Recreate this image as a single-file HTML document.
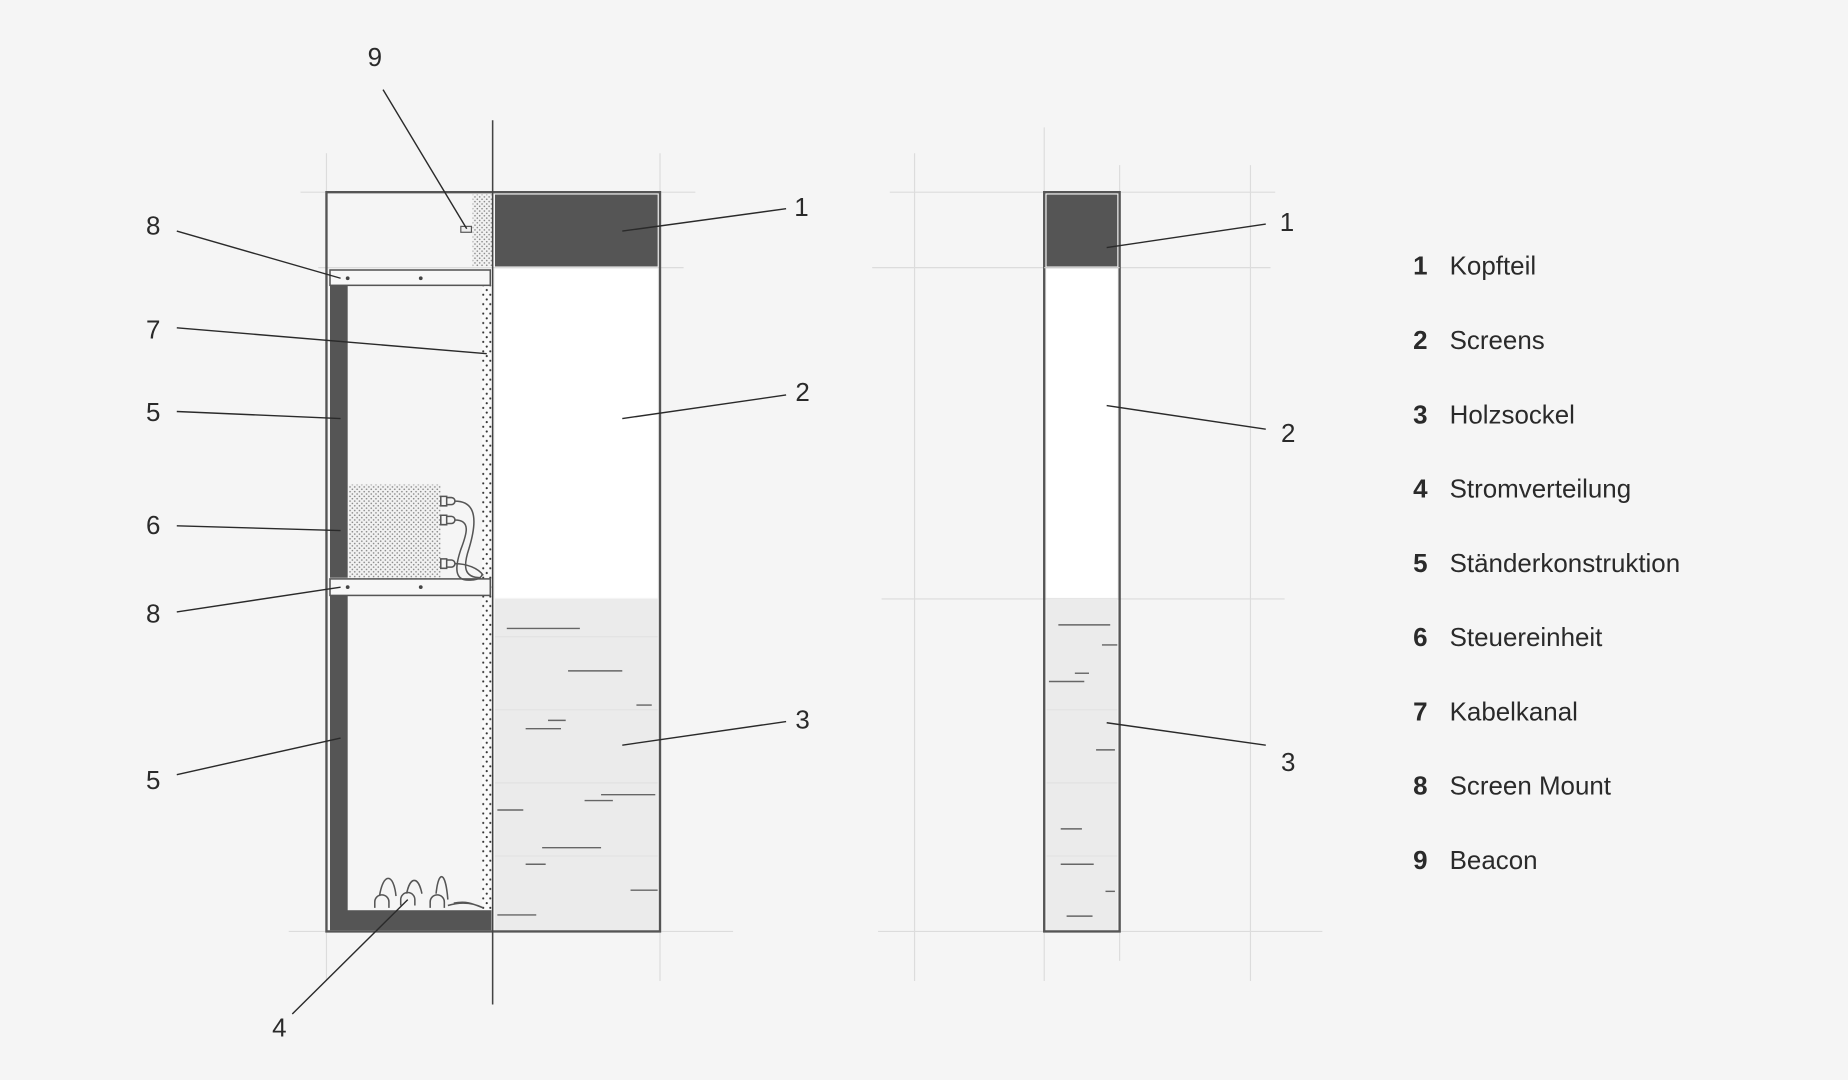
<!DOCTYPE html>
<html><head><meta charset="utf-8"><style>
html,body{margin:0;padding:0;background:#f5f5f5;}
svg{display:block}
text{font-family:"Liberation Sans",Arial,sans-serif;fill:#2a2a2a;}
</style></head><body>
<svg width="1848" height="1080" viewBox="0 0 1568 916" preserveAspectRatio="none" xmlns="http://www.w3.org/2000/svg">
<defs>
<pattern id="dots" width="4" height="4" patternUnits="userSpaceOnUse"><rect width="4" height="4" fill="#f2f2f2"/><circle cx="1" cy="1" r="0.7" fill="#888"/><circle cx="3" cy="3" r="0.7" fill="#888"/></pattern>
<pattern id="dots2" width="6" height="8" patternUnits="userSpaceOnUse"><rect width="6" height="8" fill="#fafafa"/><circle cx="2" cy="2" r="0.9" fill="#333"/><circle cx="5" cy="6" r="0.9" fill="#333"/></pattern>
</defs>
<rect width="1568" height="916" fill="#f5f5f5"/>
<g stroke="#dcdcdc" stroke-width="1">
<line x1="277" y1="130" x2="277" y2="832"/><line x1="560" y1="130" x2="560" y2="832"/>
<line x1="255" y1="163" x2="590" y2="163"/><line x1="270" y1="227" x2="580" y2="227"/><line x1="245" y1="790" x2="622" y2="790"/>
<line x1="776" y1="130" x2="776" y2="832"/><line x1="886" y1="108" x2="886" y2="832"/><line x1="950" y1="140" x2="950" y2="815"/><line x1="1061" y1="140" x2="1061" y2="832"/>
<line x1="755" y1="163" x2="1082" y2="163"/><line x1="740" y1="227" x2="1078" y2="227"/><line x1="748" y1="508" x2="1090" y2="508"/><line x1="745" y1="790" x2="1122" y2="790"/>
</g>
<rect x="420" y="165" width="138" height="61" fill="#555"/>
<rect x="420" y="228" width="138" height="279" fill="#fff"/>
<rect x="420" y="508" width="138" height="281" fill="#ebebeb"/>
<g stroke="#e2e2e2"><line x1="420" y1="540" x2="558" y2="540"/><line x1="420" y1="602" x2="558" y2="602"/><line x1="420" y1="664" x2="558" y2="664"/><line x1="420" y1="726" x2="558" y2="726"/></g>
<g stroke="#666" stroke-width="1.2">
<line x1="430" y1="533" x2="492" y2="533"/><line x1="482" y1="569" x2="528" y2="569"/><line x1="540" y1="598" x2="553" y2="598"/>
<line x1="465" y1="611" x2="480" y2="611"/><line x1="446" y1="618" x2="476" y2="618"/><line x1="422" y1="687" x2="444" y2="687"/>
<line x1="496" y1="679" x2="520" y2="679"/><line x1="510" y1="674" x2="556" y2="674"/><line x1="460" y1="719" x2="510" y2="719"/>
<line x1="446" y1="733" x2="463" y2="733"/><line x1="535" y1="755" x2="558" y2="755"/><line x1="422" y1="776" x2="455" y2="776"/></g>
<rect x="401" y="165" width="17" height="61" fill="url(#dots)"/>
<rect x="409" y="242" width="8" height="530" fill="url(#dots2)"/>
<rect x="280" y="242" width="15" height="248" fill="#555"/>
<rect x="280" y="505" width="15" height="268" fill="#555"/>
<rect x="280" y="772" width="137" height="17" fill="#555"/>
<rect x="296" y="411" width="78" height="79" fill="url(#dots)"/>
<rect x="280" y="229" width="136" height="13" fill="#f7f7f7" stroke="#555" stroke-width="1.3"/>
<rect x="280" y="491" width="136" height="14" fill="#f7f7f7" stroke="#555" stroke-width="1.3"/>
<g fill="#444"><circle cx="295" cy="236" r="1.6"/><circle cx="357" cy="236" r="1.6"/><circle cx="295" cy="498" r="1.6"/><circle cx="357" cy="498" r="1.6"/></g>
<rect x="391" y="192" width="9" height="5" fill="#eee" stroke="#555" stroke-width="1"/>
<g fill="none" stroke="#555" stroke-width="1.3">
<path d="M374 421h5v8h-5zM379 422h4a3 3 0 0 1 0 6h-4"/><path d="M374 437h5v8h-5zM379 438h4a3 3 0 0 1 0 6h-4"/><path d="M374 474h5v8h-5zM379 475h4a3 3 0 0 1 0 6h-4"/>
<path d="M386 425c20 0 18 20 12 40c-5 15-5 25 10 25"/><path d="M386 441c14 0 10 12 5 25c-5 15-6 27 8 26c10 0 10-5 10-5"/><path d="M386 478c10 0 20 4 24 10"/>
<path d="M318 770v-5a6 6 0 0 1 12 0v5M340 768v-5a6 6 0 0 1 12 0v5M365 770v-5a6 6 0 0 1 12 0v5"/>
<path d="M322 760c3-20 12-20 14 0M345 758c3-15 10-15 13 0M370 758c2-20 8-20 10 5"/>
<path d="M380 768c10-3 20-3 30 2M385 766c10-2 15 0 25 4"/>
</g>
<rect x="277" y="163" width="283" height="627" fill="none" stroke="#555" stroke-width="2"/>
<line x1="418" y1="102" x2="418" y2="852" stroke="#444" stroke-width="1.3"/>
<rect x="888" y="165" width="60" height="61" fill="#555"/>
<rect x="888" y="228" width="60" height="279" fill="#fff"/>
<rect x="888" y="508" width="60" height="281" fill="#ebebeb"/>
<g stroke="#e2e2e2"><line x1="888" y1="602" x2="948" y2="602"/><line x1="888" y1="664" x2="948" y2="664"/><line x1="888" y1="726" x2="948" y2="726"/></g>
<g stroke="#666" stroke-width="1.2">
<line x1="898" y1="530" x2="942" y2="530"/><line x1="935" y1="547" x2="948" y2="547"/><line x1="912" y1="571" x2="924" y2="571"/>
<line x1="890" y1="578" x2="920" y2="578"/><line x1="930" y1="636" x2="946" y2="636"/><line x1="900" y1="703" x2="918" y2="703"/>
<line x1="900" y1="733" x2="928" y2="733"/><line x1="938" y1="756" x2="946" y2="756"/><line x1="905" y1="777" x2="927" y2="777"/></g>
<rect x="886" y="163" width="64" height="627" fill="none" stroke="#555" stroke-width="2"/>
<line x1="886" y1="227" x2="950" y2="227" stroke="#ccc"/>
<g stroke="#2a2a2a" stroke-width="1.2">
<line x1="325" y1="76" x2="396" y2="194"/>
<line x1="150" y1="196" x2="289" y2="236"/><line x1="150" y1="278" x2="413" y2="300"/>
<line x1="150" y1="349" x2="289" y2="355"/><line x1="150" y1="446" x2="289" y2="450"/>
<line x1="150" y1="519" x2="289" y2="498"/><line x1="150" y1="657" x2="289" y2="626"/>
<line x1="248" y1="860" x2="346" y2="763"/>
<line x1="528" y1="196" x2="667" y2="177"/><line x1="528" y1="355" x2="667" y2="335"/><line x1="528" y1="632" x2="667" y2="612"/>
<line x1="939" y1="210" x2="1074" y2="190"/><line x1="939" y1="344" x2="1074" y2="364"/><line x1="939" y1="613" x2="1074" y2="632"/>
</g>
<g font-size="22">
<text x="318" y="56" text-anchor="middle">9</text>
<text x="130" y="199" text-anchor="middle">8</text><text x="130" y="287" text-anchor="middle">7</text>
<text x="130" y="357" text-anchor="middle">5</text><text x="130" y="453" text-anchor="middle">6</text>
<text x="130" y="528" text-anchor="middle">8</text><text x="130" y="669" text-anchor="middle">5</text>
<text x="237" y="879" text-anchor="middle">4</text>
<text x="680" y="183" text-anchor="middle">1</text><text x="681" y="340" text-anchor="middle">2</text><text x="681" y="618" text-anchor="middle">3</text>
<text x="1092" y="196" text-anchor="middle">1</text><text x="1093" y="375" text-anchor="middle">2</text><text x="1093" y="654" text-anchor="middle">3</text>
</g>
<g font-size="22">
<text x="1199" y="233"><tspan font-weight="bold">1</tspan><tspan x="1230">Kopfteil</tspan></text>
<text x="1199" y="296"><tspan font-weight="bold">2</tspan><tspan x="1230">Screens</tspan></text>
<text x="1199" y="359"><tspan font-weight="bold">3</tspan><tspan x="1230">Holzsockel</tspan></text>
<text x="1199" y="422"><tspan font-weight="bold">4</tspan><tspan x="1230">Stromverteilung</tspan></text>
<text x="1199" y="485"><tspan font-weight="bold">5</tspan><tspan x="1230">Ständerkonstruktion</tspan></text>
<text x="1199" y="548"><tspan font-weight="bold">6</tspan><tspan x="1230">Steuereinheit</tspan></text>
<text x="1199" y="611"><tspan font-weight="bold">7</tspan><tspan x="1230">Kabelkanal</tspan></text>
<text x="1199" y="674"><tspan font-weight="bold">8</tspan><tspan x="1230">Screen Mount</tspan></text>
<text x="1199" y="737"><tspan font-weight="bold">9</tspan><tspan x="1230">Beacon</tspan></text>
</g>
</svg>
</body></html>
